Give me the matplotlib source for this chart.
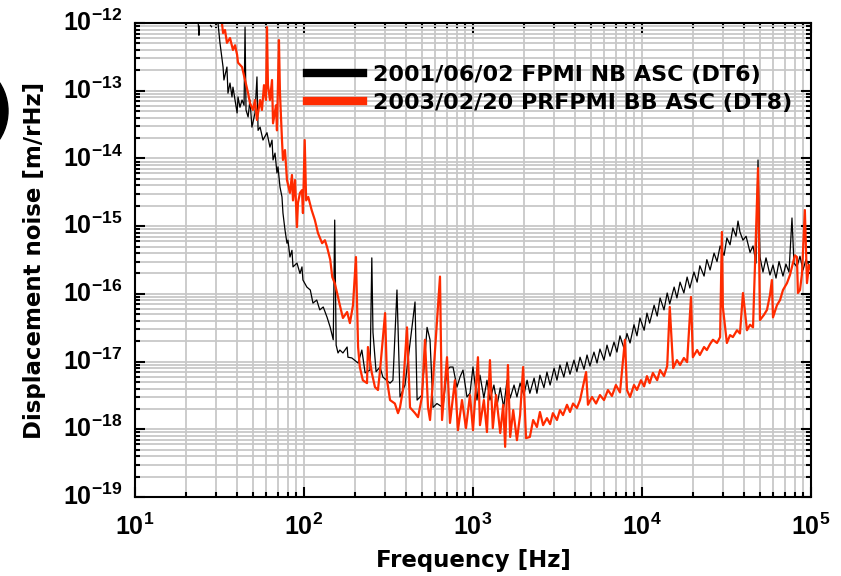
import numpy as np
import matplotlib
matplotlib.use("Agg")
from matplotlib import pyplot as plt
from matplotlib.patches import Ellipse
from matplotlib.ticker import FuncFormatter, LogLocator, FixedLocator

# 2001/06/02 FPMI NB ASC (DT6) - black
black_f = [31.0, 31.8, 33.2, 33.6, 35.0, 35.5, 36.5, 37.5, 38.0, 40.2, 40.7, 41.8, 43.0, 44.2, 44.8, 45.4,
           46.7, 47.9, 49.2, 51.3, 52.7, 53.5, 55.0, 57.2, 60.4, 62.9, 64.7, 65.6, 67.4, 69.2, 70.2, 72.1,
           74.1, 75.1, 77.2, 79.3, 80.4, 82.6, 84.9, 86.1, 90.9, 94.7, 97.3, 98.6, 104, 109, 113, 119,
           124, 130, 137, 143, 149, 152, 155, 159, 163, 170, 180, 182, 192, 209, 220, 230, 246, 252,
           256, 267, 282, 293, 323, 336, 355, 370, 396, 454, 467, 499, 535, 557, 580, 612, 664, 702,
           731, 762, 804, 838, 873, 921, 960, 1000, 1056, 1100, 1160, 1210, 1260, 1330, 1390, 1450,
           1520, 1590, 1660, 1750, 1820, 1900, 2000, 2090, 2170, 2300, 2390, 2490, 2630, 2740, 2860,
           3020, 3140, 3270, 3450, 3600, 3750, 3960, 4120, 4300, 4540, 4730, 4920, 5200, 5420, 5640,
           5960, 6210, 6470, 6830, 7110, 7410, 7820, 8150, 8500, 8970, 9340, 9730, 10300, 10700,
           11100, 11800, 12300, 12800, 13500, 14100, 14600, 15500, 16100, 16800, 17700, 18500,
           19200, 20300, 21200, 22000, 23300, 24200, 25300, 26700, 27800, 29000, 30600, 31800,
           33200, 34500, 36000, 37000, 38000, 39600, 41300, 43600, 45400, 47300, 48600, 49900,
           52000, 54200, 57200, 59600, 62100, 64700, 68300, 71100, 74100, 77200, 79300, 82600,
           86100, 89700, 93400, 98600]
black_v = [1.0e-12, 5.2e-13, 2.24e-13, 1.44e-13, 2.24e-13, 9.2e-14, 1.3e-13, 8.1e-14, 1.13e-13, 4.7e-14,
           8.1e-14, 5.7e-14, 7.3e-14, 6.1e-14, 8.7e-13, 5.2e-14, 4.1e-14, 7.3e-14, 2.9e-14, 4.7e-14,
           1.6e-13, 2.6e-14, 2.9e-14, 1.87e-14, 2.4e-14, 1.47e-14, 1.87e-14, 9.5e-15, 1.2e-14, 6.1e-15,
           7.5e-15, 3.8e-15, 2.7e-15, 1.56e-15, 8.8e-16, 5.6e-16, 6.2e-16, 3.5e-16, 4.4e-16, 2.5e-16,
           2.85e-16, 2.0e-16, 2.5e-16, 1.6e-16, 1.26e-16, 1.14e-16, 7.3e-17, 8.1e-17, 5.8e-17, 6.4e-17,
           4.5e-17, 3.2e-17, 2.1e-17, 1.23e-15, 1.75e-17, 1.34e-17, 1.48e-17, 1.34e-17, 1.64e-17,
           1.16e-17, 1.13e-17, 9.5e-18, 1.48e-17, 6.8e-18, 7.5e-18, 3.4e-16, 2.7e-17, 7.1e-18, 8.3e-18,
           5.9e-18, 4.8e-18, 5.3e-18, 1.14e-16, 3.0e-18, 4.5e-18, 7.6e-17, 2.7e-18, 3.2e-18, 3.2e-17,
           2.1e-17, 2.1e-18, 2.4e-18, 2.1e-18, 7.5e-18, 8.3e-18, 8.3e-18, 4.2e-18, 5.9e-18, 7.5e-18,
           3.0e-18, 3.4e-18, 8.3e-18, 2.7e-18, 6.3e-18, 2.9e-18, 5.3e-18, 2.7e-18, 4.5e-18, 2.3e-18,
           4.1e-18, 2.1e-18, 5.3e-18, 2.9e-18, 4.5e-18, 3.0e-18, 4.8e-18, 3.2e-18, 5.3e-18, 3.4e-18,
           5.7e-18, 3.4e-18, 6.3e-18, 4.1e-18, 7.0e-18, 4.5e-18, 8.0e-18, 5.3e-18, 8.9e-18, 5.9e-18,
           9.8e-18, 6.5e-18, 1.05e-17, 7.1e-18, 1.16e-17, 7.7e-18, 1.25e-17, 8.6e-18, 1.38e-17, 9.5e-18,
           1.53e-17, 1.05e-17, 1.75e-17, 1.2e-17, 1.94e-17, 1.38e-17, 2.4e-17, 1.58e-17, 2.6e-17,
           1.88e-17, 3.5e-17, 2.4e-17, 4.4e-17, 2.9e-17, 5.2e-17, 3.7e-17, 6.8e-17, 4.7e-17, 8.7e-17,
           5.8e-17, 1.03e-16, 7.1e-17, 1.26e-16, 8.7e-17, 1.49e-16, 1.03e-16, 1.77e-16, 1.22e-16,
           2.1e-16, 1.49e-16, 2.6e-16, 1.83e-16, 3.2e-16, 2.25e-16, 4.0e-16, 3.0e-16, 5.1e-16, 3.7e-16,
           6.7e-16, 5.3e-16, 9.4e-16, 7.1e-16, 1.19e-15, 8.2e-16, 6.2e-16, 7.1e-16, 4.1e-16, 5.1e-16,
           2.85e-16, 9.5e-15, 3.5e-16, 2.1e-16, 3.4e-16, 1.9e-16, 2.66e-16, 1.71e-16, 3.0e-16, 1.83e-16,
           2.75e-16, 2.1e-16, 1.32e-15, 2.85e-16, 2.5e-16, 3.6e-16, 2.25e-16, 3.2e-16, 2.5e-16]
# short pieces of the black trace at the top-left corner
black_frag_f = [23.7, 23.9, 24.0, np.nan, 28.0, 28.4]
black_frag_v = [9.5e-13, 6.6e-13, 9.0e-13, np.nan, 9.2e-13, 8.8e-13]

# 2003/02/20 PRFPMI BB ASC (DT8) - red
red_f = [32.7, 33.2, 34.1, 35.0, 36.5, 38.0, 39.1, 40.2, 40.7, 43.0, 44.8, 46.7, 47.9, 49.9, 51.3, 52.7,
         55.0, 56.4, 58.0, 59.6, 60.4, 61.2, 62.9, 64.7, 65.6, 68.3, 69.2, 71.1, 72.1, 74.1, 75.1, 77.2,
         79.3, 82.6, 84.9, 86.1, 88.5, 90.9, 92.1, 94.7, 97.3, 98.6, 101, 103, 106, 111, 116, 121, 128,
         133, 137, 143, 147, 152, 157, 163, 170, 180, 187, 195, 203, 209, 214, 223, 236, 239, 252, 263,
         274, 282, 302, 310, 323, 345, 360, 370, 385, 407, 424, 454, 473, 499, 520, 542, 557, 580, 638,
         656, 702, 731, 782, 815, 861, 909, 960, 1000, 1070, 1100, 1160, 1210, 1260, 1310, 1370, 1450,
         1510, 1550, 1610, 1660, 1730, 1820, 1900, 1980, 2060, 2170, 2270, 2390, 2490, 2600, 2740,
         2860, 2970, 3140, 3270, 3410, 3600, 3750, 3910, 4120, 4300, 4670, 4790, 5060, 5350, 5640,
         5960, 6290, 6640, 7010, 7410, 7930, 8150, 8500, 8970, 9340, 9860, 10300, 10700, 11100,
         11600, 12300, 12800, 13500, 14100, 14600, 15300, 16100, 16800, 17700, 18500, 19500, 20000,
         21200, 22000, 23300, 24200, 25300, 26300, 27800, 29000, 29700, 30100, 31800, 33200, 34500,
         36500, 38000, 39600, 41800, 43600, 45400, 48600, 49900, 52700, 54900, 57200, 58700, 59600,
         62900, 65600, 68300, 72100, 75100, 78200, 80400, 82600, 83700, 86100, 88500, 92000, 94700,
         97300, 100000]
red_v = [1.0e-12, 7.1e-13, 7.9e-13, 5.1e-13, 6.0e-13, 4.0e-13, 4.7e-13, 3.4e-13, 2.6e-13, 2.24e-13,
         1.44e-13, 9.2e-14, 6.6e-14, 5.2e-14, 7.3e-14, 3.7e-14, 7.3e-14, 5.2e-14, 1.21e-13, 7.3e-14,
         8.7e-13, 1.21e-13, 7.3e-14, 1.44e-13, 3.3e-14, 6.1e-14, 2.6e-14, 5.6e-13, 9.2e-14, 1.87e-14,
         9.5e-15, 1.33e-14, 4.8e-15, 3.1e-15, 5.7e-15, 2.4e-15, 4.8e-15, 9.7e-16, 2.2e-15, 3.1e-15,
         3.4e-15, 1.56e-15, 1.87e-14, 2.4e-15, 2.7e-15, 1.73e-15, 1.23e-15, 7.9e-16, 5.6e-16, 6.2e-16,
         4.9e-16, 3.2e-16, 1.77e-16, 1.44e-16, 1.03e-16, 6.8e-17, 4.4e-17, 5.4e-17, 3.7e-17, 6.8e-17,
         3.5e-16, 1.64e-17, 8.3e-18, 5.3e-18, 4.8e-18, 1.64e-17, 6.8e-18, 4.2e-18, 3.8e-18, 7.5e-18,
         5.2e-17, 5.3e-18, 2.7e-18, 2.4e-18, 1.73e-18, 2.1e-18, 3.8e-18, 3.2e-17, 2.1e-18, 1.73e-18,
         1.51e-18, 3.0e-18, 2.1e-17, 2.1e-18, 1.37e-18, 5.3e-18, 1.8e-16, 1.37e-18, 1.16e-17, 1.24e-18,
         5.3e-18, 9.7e-19, 2.7e-18, 1.04e-18, 3.2e-18, 9.7e-19, 1.16e-17, 1.15e-18, 2.7e-18, 9.1e-19,
         1.05e-17, 1.04e-18, 3.2e-18, 8.8e-19, 2.3e-18, 5.5e-19, 8.9e-18, 7.7e-19, 1.92e-18, 6.9e-19,
         1.62e-18, 8.3e-18, 7.4e-19, 7.7e-19, 1.37e-18, 1.08e-18, 1.8e-18, 1.15e-18, 1.46e-18,
         1.19e-18, 1.73e-18, 1.37e-18, 1.92e-18, 1.62e-18, 2.3e-18, 1.8e-18, 2.4e-18, 2.06e-18,
         2.7e-18, 7.0e-18, 2.3e-18, 3.0e-18, 2.4e-18, 3.2e-18, 2.7e-18, 3.8e-18, 3.1e-18, 4.5e-18,
         3.5e-18, 2.1e-17, 3.8e-18, 3.0e-18, 4.5e-18, 3.8e-18, 5.3e-18, 4.3e-18, 6.1e-18, 4.8e-18,
         6.8e-18, 5.3e-18, 7.5e-18, 6.1e-18, 8.6e-18, 6.4e-17, 8.0e-18, 1.05e-17, 8.9e-18, 1.13e-17,
         9.8e-18, 9.0e-17, 1.16e-17, 1.48e-17, 1.25e-17, 1.64e-17, 1.48e-17, 1.82e-17, 2.1e-17,
         1.88e-17, 2.3e-17, 8.2e-16, 6.4e-17, 1.88e-17, 2.46e-17, 2.3e-17, 2.9e-17, 2.6e-17, 1.03e-16,
         2.9e-17, 3.5e-17, 3.2e-17, 7.2e-15, 4.1e-17, 4.9e-17, 5.8e-17, 9.6e-17, 1.6e-16, 4.5e-17,
         6.8e-17, 8.1e-17, 1.14e-16, 1.44e-16, 1.9e-16, 2.85e-16, 3.7e-16, 3.5e-16, 1.03e-16, 1.14e-16,
         2.0e-16, 1.73e-15, 1.44e-16, 2.66e-16, 2.25e-16]

labels = ["2001/06/02 FPMI NB ASC (DT6)", "2003/02/20 PRFPMI BB ASC (DT8)"]
x_ticks = [1e1, 1e2, 1e3, 1e4, 1e5]
y_ticks = [1e-19, 1e-18, 1e-17, 1e-16, 1e-15, 1e-14, 1e-13, 1e-12]

plt.rcParams['font.family'] = 'DejaVu Sans'
plt.rcParams['font.weight'] = 'bold'
plt.rcParams['mathtext.fontset'] = 'custom'
plt.rcParams['mathtext.bf'] = 'Liberation Sans:bold'
plt.rcParams['mathtext.rm'] = 'Liberation Sans:bold'

fig = plt.figure(figsize=(8.41, 5.76), dpi=100)
ax = fig.add_axes([0.1605, 0.1372, 0.8038, 0.8228])

ax.plot(black_f, black_v, color='black', lw=0.9, label=labels[0])
ax.plot(black_frag_f, black_frag_v, color='black', lw=0.9)
ax.plot(red_f, red_v, color='#ff2b00', lw=1.6, label=labels[1])

ax.set_xscale('log')
ax.set_yscale('log')
ax.set_xlim(x_ticks[0], x_ticks[-1])
ax.set_ylim(y_ticks[0], y_ticks[-1])

ax.xaxis.set_major_locator(FixedLocator(x_ticks))
ax.yaxis.set_major_locator(FixedLocator(y_ticks))
ax.xaxis.set_minor_locator(LogLocator(base=10, subs=np.arange(2, 10), numticks=20))
ax.yaxis.set_minor_locator(LogLocator(base=10, subs=np.arange(2, 10), numticks=20))
fmt = FuncFormatter(lambda v, pos: r'$\mathbf{10^{%d}}$' % round(np.log10(v)))
ax.xaxis.set_major_formatter(fmt)
ax.yaxis.set_major_formatter(fmt)

ax.grid(True, which='both', color='#c8c8c8', lw=1.3)
ax.set_axisbelow(True)
ax.tick_params(which='both', direction='in', top=True, right=True, width=1.5, labelsize=18)
ax.tick_params(which='major', length=7)
ax.tick_params(which='minor', length=3.5)
ax.tick_params(axis='y', which='major', pad=9)
ax.tick_params(axis='x', which='major', pad=12)
for t in ax.get_yticklabels():
    t.set_verticalalignment('center')
for s in ax.spines.values():
    s.set_linewidth(1.5)

ax.set_xlabel('Frequency [Hz]', fontsize=16.5, fontweight='bold')
ax.set_ylabel('Displacement noise [m/rHz]', fontsize=16.5, fontweight='bold')
ax.xaxis.set_label_coords(0.5, -0.11)
ax.yaxis.set_label_coords(-0.132, 0.5)

leg = ax.legend(loc='upper left', bbox_to_anchor=(0.2544, 0.912), frameon=False,
                prop={'size': 16, 'weight': 'bold'}, handlelength=2.5, handletextpad=0.45,
                labelspacing=0.38, borderpad=0, borderaxespad=0)
for h in leg.get_lines():
    h.set_linewidth(6)

# cropped panel marker at the left edge
fig.add_artist(Ellipse((-44 / 841, 1 - 111 / 576), 104 / 841, 104 / 576,
                       transform=fig.transFigure, color='black', clip_on=False))

plt.savefig('out.png', dpi=100)
